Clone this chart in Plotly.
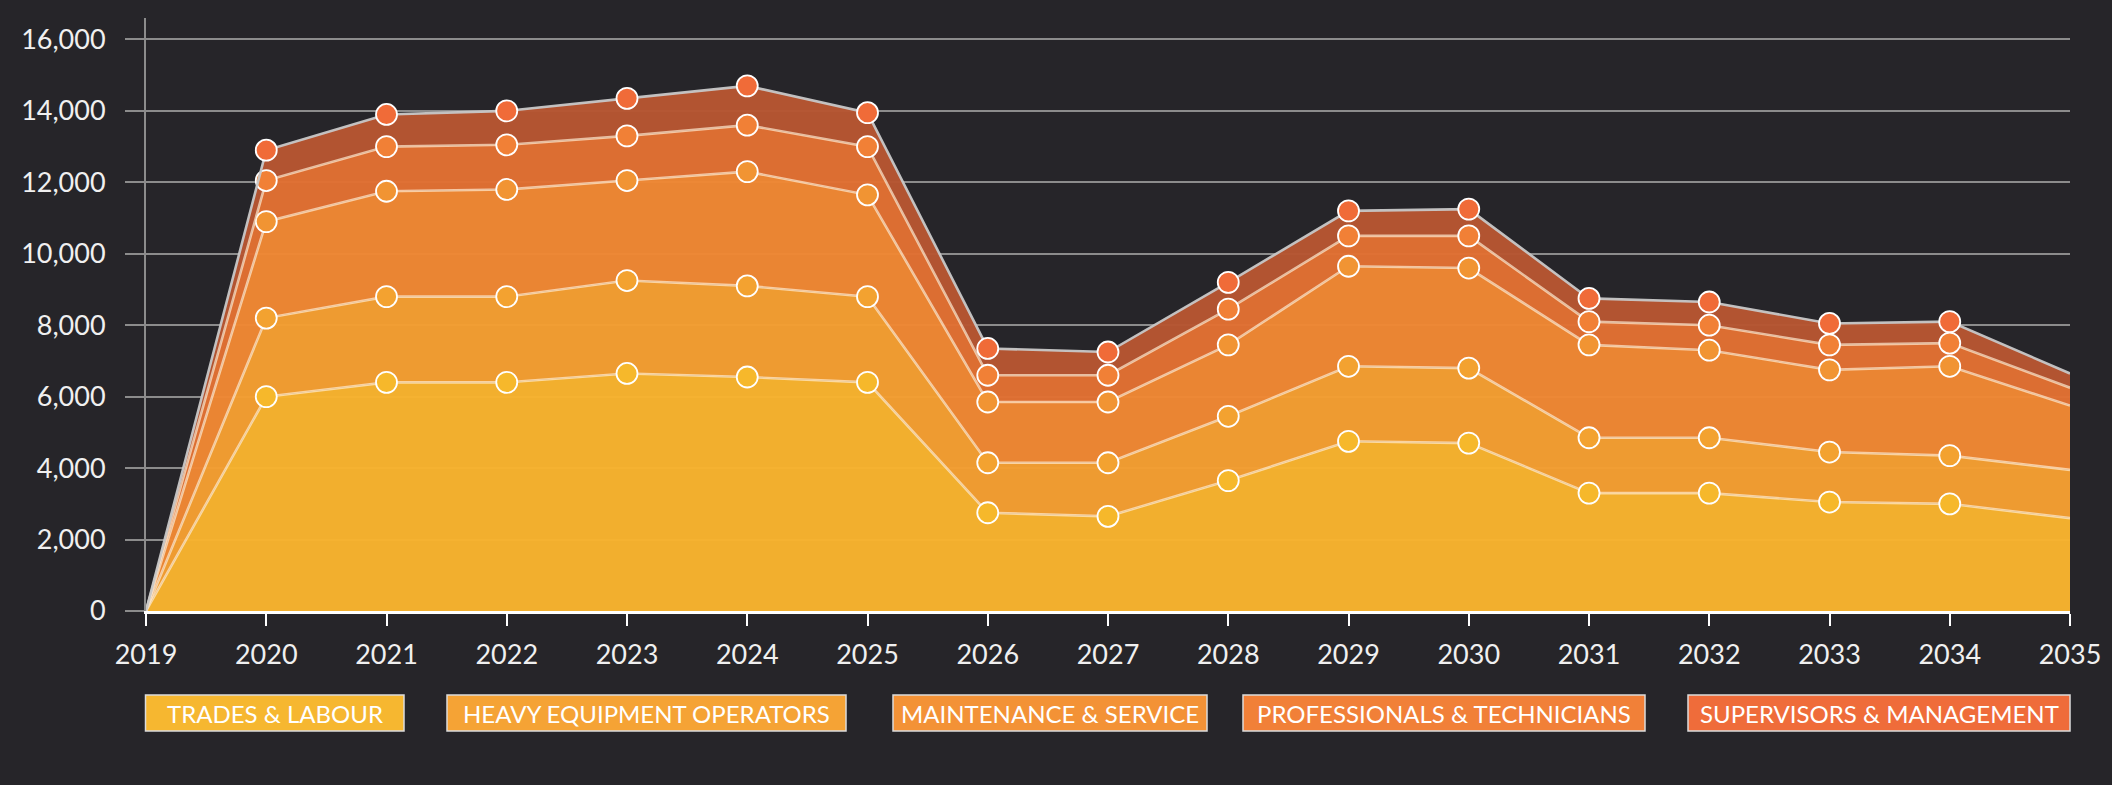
import plotly.graph_objects as go

years = list(range(2019, 2036))
series_names = ["TRADES & LABOUR", "HEAVY EQUIPMENT OPERATORS", "MAINTENANCE & SERVICE",
                "PROFESSIONALS & TECHNICIANS", "SUPERVISORS & MANAGEMENT"]
trades = [0, 6000, 6400, 6400, 6650, 6550, 6400, 2750, 2650, 3650, 4750, 4700, 3300, 3300, 3050, 3000, 2600]
heavy = [0, 2200, 2400, 2400, 2600, 2550, 2400, 1400, 1500, 1800, 2100, 2100, 1550, 1550, 1400, 1350, 1350]
maint = [0, 2700, 2950, 3000, 2800, 3200, 2850, 1700, 1700, 2000, 2800, 2800, 2600, 2450, 2300, 2500, 1800]
prof = [0, 1150, 1250, 1250, 1250, 1300, 1350, 750, 750, 1000, 850, 900, 650, 700, 700, 650, 500]
sup = [0, 850, 900, 950, 1050, 1100, 950, 750, 650, 750, 700, 750, 650, 650, 600, 600, 400]
y_ticks = list(range(0, 16001, 2000))

values = [trades, heavy, maint, prof, sup]
area_colors = ["rgba(247,178,47,0.98)", "rgba(243,158,50,0.98)", "rgba(239,136,52,0.98)",
               "rgba(224,112,51,0.98)", "rgba(182,86,50,0.98)"]
marker_colors = ["#F6B82B", "#F3A230", "#F19433", "#F18036", "#F06B38"]
legend_colors = ["#F6B730", "#F5A335", "#F39236", "#F18038", "#EF6C3A"]
line_colors = ["rgba(255,235,210,0.7)"] * 4 + ["rgba(200,200,200,0.95)"]

BG = "#262529"
W, H = 2112, 785
ML, MR, MT, MB = 146, 42, 18, 785 - 611
FONT = "Lato, Noto Sans, sans-serif"

fig = go.Figure()
n = len(years)
msize = [0] + [21] * (n - 2) + [0]
mlw = [0] + [1.8] * (n - 2) + [0]
for name, vals, ac, mc, lc in zip(series_names, values, area_colors, marker_colors, line_colors):
    fig.add_trace(go.Scatter(
        x=years, y=vals, name=name, stackgroup="one", mode="lines+markers",
        fillcolor=ac, line=dict(color=lc, width=2.6),
        marker=dict(color=mc, size=msize, opacity=1,
                    line=dict(color="white", width=mlw)),
        showlegend=False,
    ))

plot_w = W - ML - MR
plot_h = H - MT - MB

def px_x(p):
    return (p - ML) / plot_w

def px_y(p):
    return (H - MB - p) / plot_h

# custom legend boxes (page pixel positions)
legend_boxes = [(145.5, 404), (447, 846), (893, 1207), (1243, 1645), (1688, 2070)]
box_top, box_bot = 695, 731
shapes = []
annotations = []
for (x0, x1), name, col in zip(legend_boxes, series_names, legend_colors):
    shapes.append(dict(type="rect", xref="paper", yref="paper",
                       x0=px_x(x0), x1=px_x(x1), y0=px_y(box_bot), y1=px_y(box_top),
                       fillcolor=col, line=dict(color="#DCDCDC", width=1.5), layer="above"))
    annotations.append(dict(xref="paper", yref="paper", x=px_x((x0 + x1) / 2),
                            y=px_y((box_top + box_bot) / 2), text=name, showarrow=False,
                            xanchor="center", yanchor="middle",
                            font=dict(family=FONT, size=24, color="white")))

fig.update_layout(
    width=W, height=H,
    paper_bgcolor=BG, plot_bgcolor=BG,
    margin=dict(l=ML, r=MR, t=MT, b=MB),
    shapes=shapes, annotations=annotations,
    font=dict(family=FONT, color="#F0F0F0"),
    hovermode=False,
)
fig.update_xaxes(
    range=[2019, 2035], tickvals=years, ticktext=[str(y) for y in years],
    showgrid=False, zeroline=False,
    showline=True, linecolor="white", linewidth=3,
    ticks="outside", ticklen=12, tickwidth=2, tickcolor="white",
    tickfont=dict(family=FONT, size=27, color="#F0F0F0"),
    ticklabelstandoff=6,
)
fig.update_yaxes(
    range=[0, 16600], tickvals=y_ticks, tickformat=",d",
    showgrid=True, gridcolor="#8C8C8C", gridwidth=2, zeroline=False,
    showline=True, linecolor="#8C8C8C", linewidth=2,
    ticks="outside", ticklen=19, tickwidth=2, tickcolor="#8C8C8C",
    tickfont=dict(family=FONT, size=27, color="#F0F0F0"),
    ticklabelstandoff=14,
)

fig.write_html(
    "out.html",
    config={"displayModeBar": False},
    post_script="document.body.style.margin='0';document.body.style.background='#262529';"
                "document.documentElement.style.background='#262529';",
)
